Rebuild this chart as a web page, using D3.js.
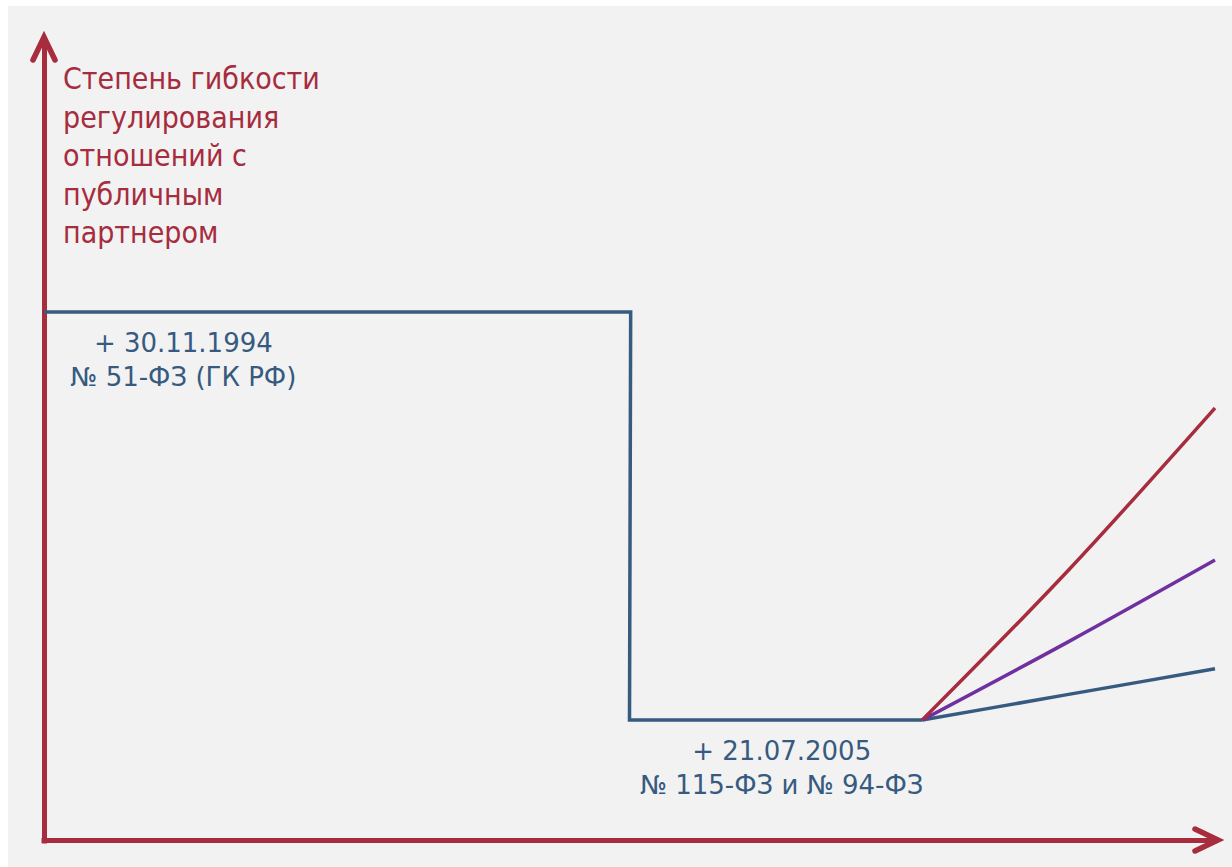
<!DOCTYPE html>
<html><head><meta charset="utf-8">
<script src="https://cdn.jsdelivr.net/npm/d3@7"></script>
<style>
html,body{margin:0;padding:0;background:#fff;}
svg{display:block;}
</style></head>
<body>
<script>
// ---- data ----
const yTitleLines = ["Степень гибкости","регулирования","отношений с","публичным","партнером"];
const stepX = [0, 5.01, 5.0, 7.5];
const stepY = [6.6, 6.6, 1.5, 1.5];
const branchX = [7.5, 8.75, 10];
const redY = [1.5, 3.375, 5.4];
const purpleY = [1.5, 2.48, 3.5];
const blueY = [1.5, 1.82, 2.14];
const label1Lines = ["+ 30.11.1994", "№ 51-ФЗ (ГК РФ)"];
const label1Pos = [1.19, 6.6];
const label2Lines = ["+ 21.07.2005", "№ 115-ФЗ и № 94-ФЗ"];
const label2Pos = [6.3, 1.5];

const W = 1232, H = 867;
const RED = "#a62c3e", BLUE = "#365a80", PURPLE = "#7030a0";

const svg = d3.select("body").append("svg").attr("width", W).attr("height", H);
svg.append("rect").attr("x", 8).attr("y", 6).attr("width", W - 8).attr("height", H - 6).attr("fill", "#f2f2f2");

const x = d3.scaleLinear().domain([0, 10]).range([44, 1215]);
const y = d3.scaleLinear().domain([0, 10]).range([840, 40]);

// axes (no ticks)
const gx = svg.append("g").attr("transform", `translate(0,${y(0)})`)
  .call(d3.axisBottom(d3.scaleLinear().domain([0,1]).range([x(0) - 3, x(10) + 2])).tickValues([]).tickSizeOuter(0));
gx.select(".domain").attr("stroke", RED).attr("stroke-width", 5);
const gy = svg.append("g").attr("transform", `translate(${x(0)},0)`)
  .call(d3.axisLeft(d3.scaleLinear().domain([0,1]).range([y(0) + 3, y(10) - 1])).tickValues([]).tickSizeOuter(0));
gy.select(".domain").attr("stroke", RED).attr("stroke-width", 5);

// arrowheads
const chev = d3.line();
svg.append("path")
  .attr("d", chev([[x(0) - 11, y(10) + 20], [x(0), y(10) - 3], [x(0) + 11, y(10) + 20]]))
  .attr("fill", "none").attr("stroke", RED).attr("stroke-width", 5.5)
  .attr("stroke-linecap", "round").attr("stroke-linejoin", "miter");
svg.append("path")
  .attr("d", chev([[x(10) - 20, y(0) - 11], [x(10) + 3, y(0)], [x(10) - 20, y(0) + 11]]))
  .attr("fill", "none").attr("stroke", RED).attr("stroke-width", 5.5)
  .attr("stroke-linecap", "round").attr("stroke-linejoin", "miter");

// step line
const lineStep = d3.line().x(d => x(d[0])).y(d => y(d[1]));
svg.append("path")
  .attr("d", lineStep(stepX.map((v, i) => [v, stepY[i]])))
  .attr("fill", "none").attr("stroke", BLUE).attr("stroke-width", 3.5)
  .attr("stroke-linejoin", "miter");

// branches
const lineCurve = d3.line().x(d => x(d[0])).y(d => y(d[1])).curve(d3.curveNatural);
[[blueY, BLUE], [purpleY, PURPLE], [redY, RED]].forEach(([ys, c]) => {
  svg.append("path")
    .attr("d", lineCurve(branchX.map((v, i) => [v, ys[i]])))
    .attr("fill", "none").attr("stroke", c).attr("stroke-width", 3.5);
});

// y title
const tt = svg.append("text").attr("font-family", "'DejaVu Sans Condensed', 'DejaVu Sans', sans-serif")
  .attr("font-size", 30).attr("fill", RED);
yTitleLines.forEach((t, i) => {
  tt.append("tspan").attr("x", 63).attr("y", 89 + i * 38.6).text(t);
});

// labels
function label(lines, pos) {
  const t = svg.append("text").attr("font-family", "'DejaVu Sans', sans-serif")
    .attr("font-size", 26).attr("fill", BLUE).attr("text-anchor", "middle");
  lines.forEach((s, i) => {
    t.append("tspan").attr("x", x(pos[0])).attr("y", y(pos[1]) + 40 + i * 33.5).text(s);
  });
}
label(label1Lines, label1Pos);
label(label2Lines, label2Pos);
</script>
</body></html>
